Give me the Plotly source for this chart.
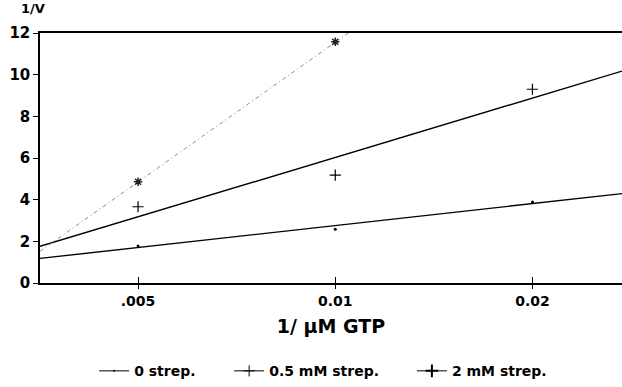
import plotly.graph_objects as go
import math

# ---- data ----
gtp_inv = [0.005, 0.01, 0.02]
strep0 = [1.78, 2.58, 3.89]
strep05 = [3.66, 5.18, 9.30]
strep2_x = [0.005, 0.01]
strep2 = [4.86, 11.58]

fit_x = [0.003542, 0.0274]
fit0 = [1.18, 4.29]
fit05 = [1.76, 10.17]
fit2 = [1.52, 21.3]

x_ticks = [0.005, 0.01, 0.02]
x_ticktext = [".005", "0.01", "0.02"]
y_ticks = [0, 2, 4, 6, 8, 10, 12]
series_names = ["0 strep.", "0.5 mM strep.", "2 mM strep."]

FONT = "DejaVu Sans, Verdana, sans-serif"

fig = go.Figure()

# fitted lines
fig.add_trace(go.Scatter(x=fit_x, y=fit0, mode="lines", line=dict(color="black", width=1.4), showlegend=False))
fig.add_trace(go.Scatter(x=fit_x, y=fit05, mode="lines", line=dict(color="black", width=1.4), showlegend=False))
fig.add_trace(go.Scatter(x=fit_x, y=fit2, mode="lines",
                         line=dict(color="#8a8a8a", width=1, dash="4px,3px,1px,3px"), showlegend=False))

# data points
fig.add_trace(go.Scatter(x=gtp_inv, y=strep0, mode="markers", showlegend=False,
                         marker=dict(symbol="circle", size=3, color="black"), cliponaxis=False))
fig.add_trace(go.Scatter(x=gtp_inv, y=strep05, mode="markers", showlegend=False,
                         marker=dict(symbol="cross-thin", size=8, line=dict(width=1.2, color="black")), cliponaxis=False))
fig.add_trace(go.Scatter(x=strep2_x, y=strep2, mode="markers", showlegend=False,
                         marker=dict(symbol="asterisk", size=7, line=dict(width=1.5, color="#222222")), cliponaxis=False))

# legend entries (one legend box each, so they can be placed like the reference)
leg_markers = [
    dict(symbol="circle", size=2, color="black"),
    dict(symbol="cross-thin", size=8, line=dict(width=1, color="black")),
    dict(symbol="cross-thin", size=9, line=dict(width=2, color="black")),
]
leg_ids = ["legend", "legend2", "legend3"]
for name, mk, lid in zip(series_names, leg_markers, leg_ids):
    fig.add_trace(go.Scatter(x=[None], y=[None], mode="lines+markers", name=name, legend=lid,
                             line=dict(color="black", width=1), marker=mk))

xr = [math.log10(fit_x[0]), math.log10(fit_x[1])]
legfont = dict(family=FONT, size=14, weight="bold", color="black")
leg_common = dict(orientation="h", yanchor="middle", y=-0.353, xanchor="left",
                  font=legfont, bgcolor="rgba(0,0,0,0)", borderwidth=0)

fig.update_layout(
    width=622, height=387,
    margin=dict(l=40, r=0, t=33, b=104, autoexpand=False),
    paper_bgcolor="white", plot_bgcolor="white",
    font=dict(family=FONT, color="black", size=13),
    xaxis=dict(type="log", range=xr, tickvals=x_ticks, ticktext=x_ticktext,
               showgrid=False, zeroline=False, showline=True, linecolor="black", linewidth=2,
               mirror=True, ticks="outside", ticklen=4, tickcolor="black", tickwidth=1,
               ticklabelstandoff=0, automargin=False,
               tickfont=dict(family=FONT, size=14, weight="bold"),
               title=dict(text="1/ µM GTP", font=dict(family=FONT, size=19, weight="bold"), standoff=12)),
    xaxis2=dict(type="log", range=xr, overlaying="x", anchor="y", tickvals=x_ticks, showticklabels=False,
                showgrid=False, zeroline=False, showline=False, ticks="inside", ticklen=6,
                tickcolor="black", tickwidth=1),
    yaxis=dict(range=[0, 12], tickvals=y_ticks, showgrid=False, zeroline=False, automargin=False,
               showline=True, linecolor="black", linewidth=1.5, ticks="outside", ticklen=5,
               tickcolor="black", tickfont=dict(family=FONT, size=15, weight="bold")),
    legend=dict(x=0.093, **leg_common),
    legend2=dict(x=0.325, **leg_common),
    legend3=dict(x=0.639, **leg_common),
    annotations=[dict(text="1/V", x=-0.036, xref="paper", y=1.096, yref="paper",
                      xanchor="left", yanchor="middle", showarrow=False,
                      font=dict(family=FONT, size=13, weight="bold"))],
)
# attach a dummy trace to xaxis2 so its crossing tick marks render
fig.add_trace(go.Scatter(x=[x_ticks[0]], y=[None], xaxis="x2", showlegend=False, hoverinfo="skip"))

fig.write_html("out.html", config={"displayModeBar": False},
               post_script="document.body.style.margin='0px';document.body.style.overflow='hidden';")
